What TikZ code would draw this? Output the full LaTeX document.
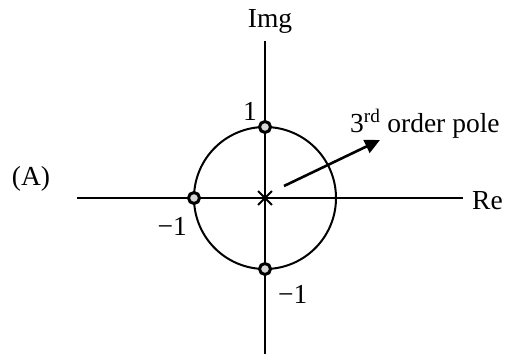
\documentclass[tikz,border=0pt]{standalone}
\usepackage{fontspec}
\setmainfont{Liberation Serif}
\usetikzlibrary{positioning,arrows.meta,shapes.misc}
\definecolor{ZeroFill}{RGB}{215,215,215}

\begin{document}
\begin{tikzpicture}[
x=1pt,y=1pt,
axis/.style={line width=2pt,draw=black},
lbl/.style={inner sep=0pt,font=\fontsize{27.5}{31}\selectfont},
zero/.style={circle,draw=black,fill=ZeroFill,line width=3pt,minimum size=11pt,inner sep=0pt},
pole/.style={cross out,draw=black,line width=1.8pt,minimum size=12pt,inner sep=0pt},
arrow/.style={-{Triangle[length=15pt,width=14pt]},line width=2.6pt,draw=black}
]
\useasboundingbox (-265,-156) rectangle (241,198);
% axes
\coordinate (o) at (0,0);
\coordinate (xl) at (-188,0);
\coordinate (xr) at (198,0);
\coordinate (yt) at (0,157);
\coordinate (yb) at (0,-156);
\draw[axis] (xl)--(xr);
\draw[axis] (yt)--(yb);
\draw[axis] (o) circle (71);
% poles and zeros
\node[pole] (p) at (o) {};
\node[zero] (z1) at (0,71) {};
\node[zero] (z2) at (-71,0) {};
\node[zero] (z3) at (0,-71) {};
% labels
\node[lbl] (img) at (5,177) {Img};
\node[lbl,anchor=west] (re) at (207,-3) {Re};
\node[lbl] (a) at (-234,19) {(A)};
\node[lbl,above left=1pt and 3pt of z1] (one) {1};
\node[lbl,below left=14pt and 2pt of z2] (mone) {−1};
\node[lbl,below right=11pt and 8pt of z3] (mtwo) {−1};
\node[lbl,anchor=base west] (ord) at (85,66) {3\textsuperscript{rd} order pole};
\coordinate (tail) at (19,12);
\coordinate (head) at (115,58);
\draw[arrow] (tail)--(head);
\end{tikzpicture}
\end{document}
